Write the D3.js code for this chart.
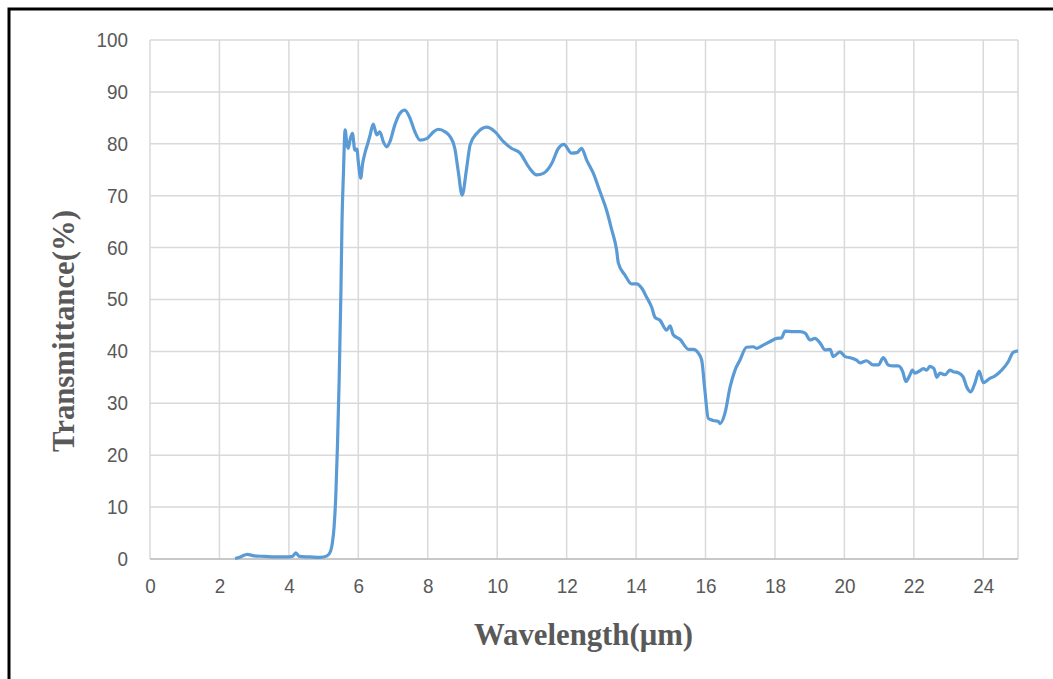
<!DOCTYPE html>
<html>
<head>
<meta charset="utf-8">
<script src="https://cdn.jsdelivr.net/npm/d3@7"></script>
<style>
  html, body { margin: 0; padding: 0; background: #fff; }
  svg { display: block; }
</style>
</head>
<body>
<script>
// wavelength (um) and transmittance (%)
var wavelength = [2.45, 2.6, 2.8, 3.0, 3.3, 3.6, 3.9, 4.1, 4.2, 4.3, 4.6, 4.9, 5.1, 5.2, 5.25, 5.3, 5.35, 5.4, 5.45, 5.5,
  5.53, 5.57, 5.62, 5.67, 5.71, 5.77, 5.83, 5.9, 5.96, 6.0, 6.07, 6.12, 6.19, 6.27, 6.34, 6.43, 6.53, 6.62, 6.72, 6.82,
  6.91, 7.05, 7.2, 7.34, 7.49, 7.63, 7.78, 7.97, 8.15, 8.3, 8.5, 8.64, 8.78, 8.88, 8.99, 9.12, 9.22, 9.41, 9.7, 9.94,
  10.18, 10.42, 10.66, 10.9, 11.14, 11.33, 11.57, 11.76, 11.92, 12.14, 12.3, 12.43, 12.58, 12.77, 12.96, 13.15, 13.3, 13.44, 13.49, 13.68,
  13.87, 14.02, 14.16, 14.3, 14.45, 14.55, 14.69, 14.88, 14.98, 15.07, 15.27, 15.51, 15.65, 15.8, 15.89, 15.98, 16.08, 16.22, 16.37, 16.42,
  16.56, 16.71, 16.85, 16.99, 17.18, 17.37, 17.47, 17.66, 17.86, 18.05, 18.19, 18.29, 18.53, 18.72, 18.87, 19.01, 19.15, 19.3, 19.44, 19.59,
  19.68, 19.87, 20.02, 20.21, 20.35, 20.45, 20.64, 20.83, 20.98, 21.12, 21.26, 21.41, 21.55, 21.68, 21.77, 21.89, 21.96, 22.03, 22.18, 22.27,
  22.37, 22.46, 22.58, 22.66, 22.75, 22.9, 23.04, 23.13, 23.28, 23.42, 23.52, 23.64, 23.76, 23.88, 24.0, 24.19, 24.34, 24.53, 24.72, 24.86, 25.0];
var transmittance = [0.1, 0.4, 0.9, 0.6, 0.5, 0.4, 0.4, 0.5, 1.2, 0.5, 0.4, 0.3, 0.6, 1.5, 3, 6, 12, 22, 35, 52,
  65, 74, 82.7, 80, 79.1, 81, 82, 78.8, 79, 76.5, 73.4, 76, 78.2, 80, 81.7, 83.8, 81.7, 82.3, 80.4, 79.4,
  80.4, 83.6, 85.9, 86.5, 84.9, 82.3, 80.7, 81, 82.2, 82.8, 82.3, 81.4, 79.1, 74.6, 70.1, 75.3, 79.8, 82, 83.2, 82.3,
  80.4, 79.1, 78.2, 75.6, 74, 74.3, 76.2, 79.1, 79.9, 78.2, 78.3, 79.1, 76.8, 74.3, 70.8, 67.2, 63.4, 59.5, 57, 54.7,
  53, 53, 52.2, 50.5, 48.5, 46.5, 46, 44.1, 44.9, 43.2, 42.3, 40.4, 40.4, 39.6, 38.3, 32.6, 27.1, 26.7, 26.5, 26.1,
  28.1, 33.2, 36.4, 38.3, 40.8, 40.9, 40.6, 41.2, 41.9, 42.5, 42.6, 43.9, 43.8, 43.8, 43.5, 42.2, 42.5, 41.6, 40.3, 40.4,
  39, 39.9, 39, 38.7, 38.3, 37.8, 38.2, 37.4, 37.4, 38.8, 37.4, 37.2, 37.2, 36.1, 34.2, 35.5, 36.4, 35.8, 36.3, 36.7,
  36.4, 37.1, 36.7, 35, 35.8, 35.5, 36.4, 36.1, 35.9, 35.1, 33.2, 32.2, 33.9, 36.2, 34, 34.8, 35.3, 36.4, 38, 39.8, 40.1];
var xTicks = [0, 2, 4, 6, 8, 10, 12, 14, 16, 18, 20, 22, 24];
var yTicks = [0, 10, 20, 30, 40, 50, 60, 70, 80, 90, 100];

var width = 1053, height = 679;
var margin = { left: 150, right: 35, top: 40, bottom: 120 };

var svg = d3.select('body').append('svg')
    .attr('width', width)
    .attr('height', height);

// outer frame (only left and top edges are visible in the picture)
svg.append('rect')
    .attr('x', 9).attr('y', 9)
    .attr('width', width + 20).attr('height', height + 20)
    .attr('fill', 'none')
    .attr('stroke', '#000')
    .attr('stroke-width', 3);

var x = d3.scaleLinear().domain([0, 25]).range([margin.left, width - margin.right]);
var y = d3.scaleLinear().domain([0, 100]).range([height - margin.bottom, margin.top]);

// grid
var grid = svg.append('g').attr('stroke', '#d9d9d9').attr('stroke-width', 1.5);
grid.selectAll('.vg')
    .data(xTicks.concat([25]))
    .enter().append('line')
    .attr('x1', function (d) { return x(d); })
    .attr('x2', function (d) { return x(d); })
    .attr('y1', y(0))
    .attr('y2', y(100));
grid.selectAll('.hg')
    .data(yTicks)
    .enter().append('line')
    .attr('x1', x(0))
    .attr('x2', x(25))
    .attr('y1', function (d) { return y(d); })
    .attr('y2', function (d) { return y(d); });

// axes
var xAxis = svg.append('g')
    .attr('transform', 'translate(0,' + y(0) + ')')
    .call(d3.axisBottom(x).tickValues(xTicks).tickSize(0).tickPadding(20));
var yAxis = svg.append('g')
    .attr('transform', 'translate(' + x(0) + ',0)')
    .call(d3.axisLeft(y).tickValues(yTicks).tickSize(0).tickPadding(22));
[xAxis, yAxis].forEach(function (a) {
    a.select('.domain').remove();
    a.selectAll('text')
        .attr('fill', '#595959')
        .attr('textLength', function (d) { return String(d).length * 10.5; })
        .attr('lengthAdjust', 'spacingAndGlyphs')
        .style('font-family', '"Liberation Sans", Arial, sans-serif')
        .style('font-size', '20px');
});
xAxis.append('line')
    .attr('x1', x(0)).attr('x2', x(25))
    .attr('stroke', '#bfbfbf').attr('stroke-width', 1.5);

// curve
var line = d3.line()
    .x(function (d) { return x(d[0]); })
    .y(function (d) { return y(d[1]); })
    .curve(d3.curveMonotoneX);
svg.append('path')
    .datum(d3.zip(wavelength, transmittance))
    .attr('d', line)
    .attr('fill', 'none')
    .attr('stroke', '#5b9bd5')
    .attr('stroke-width', 3.2)
    .attr('stroke-linejoin', 'round');

// axis titles (tall, narrow bold serif)
svg.append('text')
    .attr('x', 474).attr('y', 645)
    .attr('textLength', 219)
    .attr('lengthAdjust', 'spacingAndGlyphs')
    .attr('fill', '#595959')
    .style('font-family', '"Liberation Serif", "Times New Roman", serif')
    .style('font-weight', 'bold')
    .style('font-size', '31px')
    .text('Wavelength(μm)');
svg.append('text')
    .attr('transform', 'translate(74,452) rotate(-90)')
    .attr('textLength', 242)
    .attr('lengthAdjust', 'spacingAndGlyphs')
    .attr('fill', '#595959')
    .style('font-family', '"Liberation Serif", "Times New Roman", serif')
    .style('font-weight', 'bold')
    .style('font-size', '31px')
    .text('Transmittance(%)');
</script>
</body>
</html>
